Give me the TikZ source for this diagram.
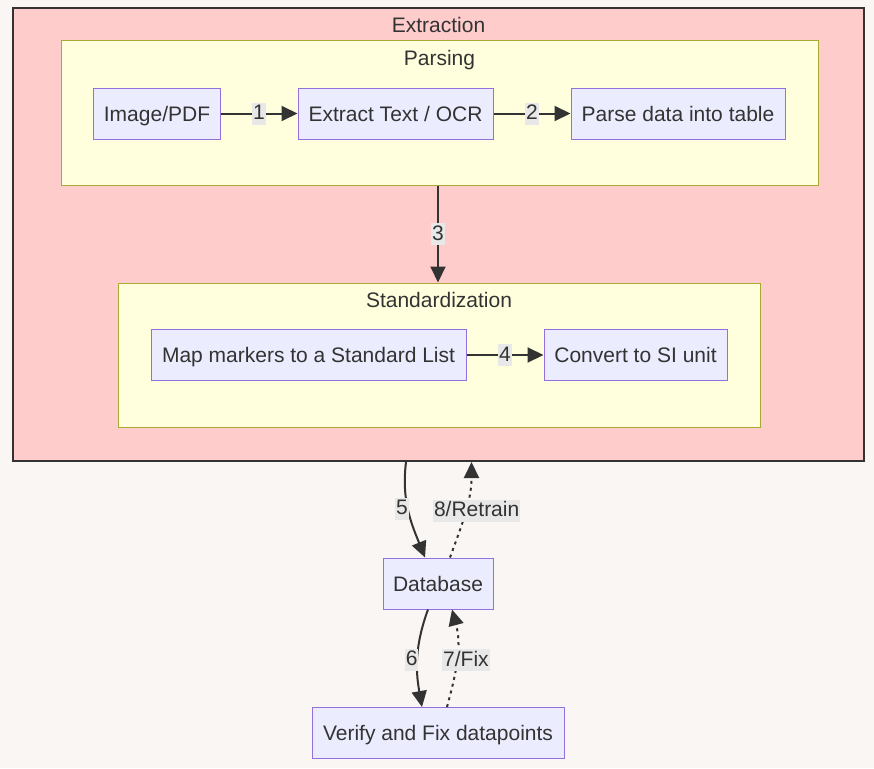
\documentclass[tikz,border=0pt]{standalone}
\usepackage{fontspec}
\setmainfont{Liberation Sans}
\usepackage{tikz}
\usetikzlibrary{arrows.meta}
\definecolor{bgcol}{RGB}{250,246,243}
\definecolor{txtcol}{RGB}{51,51,51}
\definecolor{outerfill}{RGB}{255,204,204}
\definecolor{clusterfill}{RGB}{255,255,222}
\definecolor{clusterline}{RGB}{170,170,51}
\definecolor{boxfill}{RGB}{236,236,255}
\definecolor{boxline}{RGB}{147,112,219}
\definecolor{lblfill}{RGB}{232,232,232}

\begin{document}
\begin{tikzpicture}[x=1pt, y=-1pt, font=\fontsize{21pt}{25pt}\selectfont, text=txtcol,
                    box/.style = {draw=boxline, fill=boxfill, line width=1pt, minimum height=51pt, inner xsep=10pt, text height=16pt, text depth=1pt},
                    outer/.style = {draw=txtcol, fill=outerfill, line width=2pt, inner sep=0pt},
                    cluster/.style = {draw=clusterline, fill=clusterfill, line width=1pt, inner sep=0pt},
                    title/.style = {inner sep=0pt, text height=16pt, text depth=1pt},
                    link/.style = {draw=txtcol, line width=2pt, -{Triangle[length=16pt, width=15pt]}},
                    back/.style = {link, dash pattern=on 3pt off 4pt},
                    lbl/.style = {fill=lblfill, inner xsep=1pt, inner ysep=2pt, text height=15pt, text depth=3pt}]

        \fill[bgcol] (0,0) rectangle (874,768);
        \useasboundingbox (0,0) rectangle (874,768);

        % groups
        \node[outer, minimum width=851pt, minimum height=453pt] (extraction) at (438.5,234.5) {};
        \node[title] at (438.5,25) {Extraction};
        \node[cluster, minimum width=757pt, minimum height=144pt] (parsing) at (439.5,113) {};
        \node[title] at (439.5,58) {Parsing};
        \node[cluster, minimum width=642pt, minimum height=144pt] (standard) at (439,355) {};
        \node[title] at (439,300) {Standardization};

        % steps
        \node[box, minimum width=126pt] (img) at (157,113.5) {Image/PDF};
        \node[box, minimum width=195pt] (ocr) at (395.5,113.5) {Extract Text / OCR};
        \node[box, minimum width=214pt] (table) at (678,113.5) {Parse data into table};
        \node[box, minimum width=315pt] (map) at (308.5,355) {Map markers to a Standard List};
        \node[box, minimum width=183pt] (si) at (635.5,355) {Convert to SI unit};
        \node[box, minimum width=110pt] (db) at (438,583.5) {Database};
        \node[box, minimum width=252pt] (verify) at (438,733) {Verify and Fix datapoints};

        \draw[link] (img) -- node[lbl] {1} (ocr);
        \draw[link] (ocr) -- node[lbl] {2} (table);
        \draw[link] ([xshift=-1.5pt]parsing.south) -- node[lbl] {3} ([xshift=-1pt]standard.north);
        \draw[link] (map) -- node[lbl] {4} (si);

        \draw[link] ([xshift=-32.5pt]extraction.south) to[out=-97, in=112] node[lbl, pos=0.48, xshift=-6pt] {5} ([xshift=-13pt]db.north);
        \draw[back] ([xshift=12pt]db.north) to[out=70, in=-90] node[lbl, pos=0.5, xshift=11pt] {8/Retrain} ([xshift=33pt]extraction.south);
        \draw[link] ([xshift=-10pt]db.south) to[out=-110, in=100] node[lbl, pos=0.5, xshift=-6pt, yshift=-2pt] {6} ([xshift=-16pt]verify.north);
        \draw[back] ([xshift=9pt]verify.north) to[out=75, in=-75] node[lbl, pos=0.5, xshift=9pt, yshift=-2pt] {7/Fix} ([xshift=14pt]db.south);
    \end{tikzpicture}
\end{document}
